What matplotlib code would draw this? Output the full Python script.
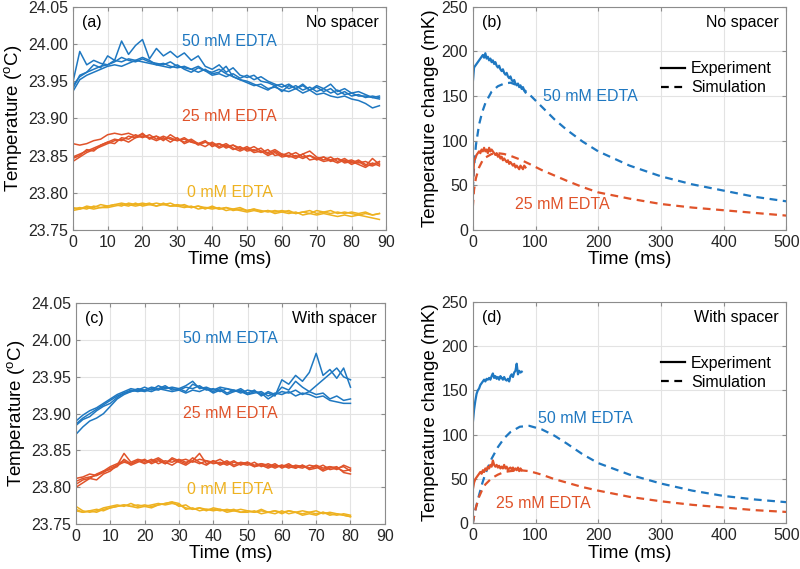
import numpy as np
import matplotlib.pyplot as plt
from matplotlib.lines import Line2D

plt.rcParams['font.family'] = ['Liberation Sans', 'DejaVu Sans']
plt.rcParams['font.size'] = 11.5

BLUE = '#1f78c1'
ORANGE = '#e0532a'
YELLOW = '#eeb220'
EDGE = '#8c8c8c'

# ---- panel (a): no spacer, raw temperature (degC), one sample every 2 ms
t_a = np.arange(0, 89, 2)
a_50 = [
    [23.940, 23.958, 23.962, 23.972, 23.968, 23.984, 23.978, 24.004, 23.986, 23.998,
     24.006, 23.980, 23.994, 23.984, 23.990, 23.982, 23.988, 23.978, 23.984, 23.970,
     23.966, 23.972, 23.962, 23.968, 23.958, 23.955, 23.958, 23.950, 23.948, 23.944,
     23.946, 23.940, 23.944, 23.938, 23.942, 23.936, 23.940, 23.934, 23.938, 23.932,
     23.934, 23.930, 23.930, 23.928, 23.926],
    [23.948, 23.990, 23.972, 23.978, 23.974, 23.972, 23.976, 23.982, 23.978, 23.976,
     23.980, 23.976, 23.974, 23.972, 23.976, 23.970, 23.968, 23.966, 23.970, 23.964,
     23.962, 23.966, 23.960, 23.956, 23.952, 23.950, 23.946, 23.942, 23.938, 23.944,
     23.936, 23.944, 23.940, 23.946, 23.938, 23.942, 23.936, 23.940, 23.932, 23.936,
     23.930, 23.932, 23.928, 23.930, 23.928],
    [23.936, 23.952, 23.958, 23.962, 23.966, 23.970, 23.972, 23.970, 23.974, 23.978,
     23.976, 23.974, 23.972, 23.974, 23.970, 23.968, 23.970, 23.966, 23.962, 23.966,
     23.960, 23.962, 23.970, 23.956, 23.952, 23.948, 23.944, 23.946, 23.940, 23.942,
     23.938, 23.936, 23.940, 23.934, 23.938, 23.932, 23.934, 23.930, 23.928, 23.930,
     23.926, 23.924, 23.920, 23.914, 23.917],
    [23.944, 23.956, 23.962, 23.966, 23.970, 23.972, 23.978, 23.976, 23.980, 23.978,
     23.982, 23.978, 23.972, 23.970, 23.968, 23.972, 23.966, 23.962, 23.968, 23.964,
     23.958, 23.960, 23.956, 23.960, 23.954, 23.958, 23.952, 23.956, 23.950, 23.946,
     23.942, 23.946, 23.940, 23.944, 23.938, 23.944, 23.940, 23.946, 23.936, 23.940,
     23.934, 23.936, 23.932, 23.928, 23.930],
]
a_25 = [
    [23.866, 23.864, 23.866, 23.870, 23.872, 23.878, 23.880, 23.878, 23.880, 23.876,
     23.878, 23.874, 23.876, 23.872, 23.874, 23.870, 23.872, 23.868, 23.866, 23.868,
     23.864, 23.866, 23.862, 23.864, 23.860, 23.858, 23.862, 23.856, 23.854, 23.858,
     23.852, 23.850, 23.854, 23.848, 23.850, 23.846, 23.848, 23.844, 23.846, 23.842,
     23.844, 23.840, 23.842, 23.838, 23.842],
    [23.848, 23.852, 23.856, 23.860, 23.864, 23.868, 23.872, 23.870, 23.876, 23.874,
     23.880, 23.872, 23.876, 23.870, 23.878, 23.872, 23.868, 23.872, 23.866, 23.870,
     23.862, 23.866, 23.860, 23.864, 23.858, 23.862, 23.856, 23.860, 23.852, 23.856,
     23.850, 23.854, 23.848, 23.852, 23.856, 23.848, 23.844, 23.848, 23.842, 23.846,
     23.840, 23.844, 23.838, 23.836, 23.840],
    [23.842, 23.848, 23.854, 23.858, 23.862, 23.866, 23.870, 23.872, 23.868, 23.874,
     23.876, 23.874, 23.870, 23.874, 23.868, 23.874, 23.866, 23.870, 23.864, 23.868,
     23.866, 23.860, 23.864, 23.858, 23.862, 23.856, 23.858, 23.854, 23.858, 23.850,
     23.852, 23.848, 23.850, 23.846, 23.850, 23.844, 23.848, 23.842, 23.846, 23.840,
     23.842, 23.838, 23.834, 23.840, 23.836],
    [23.846, 23.850, 23.858, 23.856, 23.864, 23.868, 23.866, 23.874, 23.872, 23.878,
     23.874, 23.878, 23.872, 23.876, 23.872, 23.870, 23.874, 23.868, 23.866, 23.862,
     23.868, 23.862, 23.866, 23.860, 23.856, 23.860, 23.854, 23.856, 23.850, 23.854,
     23.848, 23.850, 23.846, 23.852, 23.844, 23.846, 23.842, 23.844, 23.840, 23.844,
     23.838, 23.842, 23.836, 23.846, 23.838],
]
a_0 = [
    [23.778, 23.780, 23.778, 23.782, 23.780, 23.782, 23.784, 23.782, 23.786, 23.784,
     23.786, 23.784, 23.786, 23.784, 23.782, 23.784, 23.782, 23.780, 23.782, 23.780,
     23.780, 23.778, 23.780, 23.776, 23.778, 23.776, 23.778, 23.774, 23.776, 23.774,
     23.776, 23.774, 23.772, 23.774, 23.776, 23.772, 23.774, 23.776, 23.772, 23.774,
     23.772, 23.770, 23.772, 23.770, 23.772],
    [23.776, 23.778, 23.780, 23.778, 23.780, 23.780, 23.782, 23.784, 23.782, 23.786,
     23.782, 23.784, 23.782, 23.786, 23.782, 23.782, 23.780, 23.782, 23.778, 23.780,
     23.778, 23.780, 23.776, 23.778, 23.776, 23.774, 23.776, 23.774, 23.776, 23.772,
     23.774, 23.772, 23.774, 23.770, 23.772, 23.770, 23.772, 23.770, 23.768, 23.770,
     23.768, 23.770, 23.768, 23.766, 23.764],
    [23.780, 23.778, 23.782, 23.780, 23.784, 23.782, 23.784, 23.786, 23.784, 23.782,
     23.784, 23.786, 23.782, 23.784, 23.786, 23.782, 23.784, 23.780, 23.782, 23.778,
     23.782, 23.778, 23.780, 23.778, 23.780, 23.776, 23.778, 23.776, 23.774, 23.776,
     23.774, 23.776, 23.772, 23.774, 23.772, 23.776, 23.774, 23.772, 23.774, 23.772,
     23.774, 23.772, 23.774, 23.770, 23.772],
]

# ---- panel (c): with spacer, one sample every 2 ms
t_c = np.arange(0, 81, 2)
c_50 = [
    [23.886, 23.894, 23.900, 23.906, 23.912, 23.918, 23.924, 23.928, 23.930, 23.932,
     23.930, 23.934, 23.932, 23.936, 23.934, 23.932, 23.936, 23.934, 23.938, 23.932,
     23.934, 23.930, 23.934, 23.932, 23.928, 23.932, 23.930, 23.926, 23.928, 23.924,
     23.946, 23.940, 23.952, 23.944, 23.956, 23.982, 23.952, 23.960, 23.948, 23.962,
     23.936],
    [23.890, 23.898, 23.904, 23.908, 23.914, 23.920, 23.926, 23.930, 23.934, 23.932,
     23.936, 23.932, 23.938, 23.934, 23.936, 23.934, 23.930, 23.940, 23.936, 23.934,
     23.930, 23.934, 23.928, 23.932, 23.930, 23.926, 23.930, 23.928, 23.920, 23.926,
     23.936, 23.932, 23.944, 23.936, 23.930, 23.938, 23.946, 23.954, 23.962, 23.950,
     23.946],
    [23.872, 23.882, 23.890, 23.894, 23.900, 23.910, 23.920, 23.926, 23.930, 23.934,
     23.932, 23.936, 23.934, 23.938, 23.932, 23.934, 23.938, 23.944, 23.934, 23.936,
     23.932, 23.936, 23.934, 23.930, 23.934, 23.928, 23.932, 23.924, 23.930, 23.926,
     23.930, 23.928, 23.932, 23.926, 23.930, 23.926, 23.928, 23.920, 23.924, 23.918,
     23.920],
    [23.884, 23.892, 23.896, 23.904, 23.910, 23.914, 23.922, 23.928, 23.932, 23.930,
     23.932, 23.930, 23.934, 23.932, 23.930, 23.932, 23.928, 23.932, 23.930, 23.934,
     23.928, 23.932, 23.926, 23.930, 23.932, 23.926, 23.928, 23.930, 23.924, 23.928,
     23.926, 23.930, 23.924, 23.928, 23.926, 23.922, 23.924, 23.918, 23.916, 23.914,
     23.914],
]
c_25 = [
    [23.808, 23.812, 23.814, 23.816, 23.820, 23.826, 23.830, 23.834, 23.832, 23.836,
     23.834, 23.838, 23.832, 23.836, 23.834, 23.838, 23.834, 23.836, 23.832, 23.836,
     23.832, 23.834, 23.830, 23.834, 23.832, 23.830, 23.834, 23.828, 23.832, 23.828,
     23.830, 23.826, 23.830, 23.828, 23.826, 23.828, 23.824, 23.828, 23.826, 23.822,
     23.824],
    [23.804, 23.810, 23.812, 23.818, 23.822, 23.824, 23.828, 23.838, 23.832, 23.836,
     23.832, 23.836, 23.840, 23.834, 23.830, 23.836, 23.832, 23.840, 23.834, 23.830,
     23.836, 23.830, 23.834, 23.828, 23.832, 23.834, 23.828, 23.830, 23.826, 23.830,
     23.828, 23.832, 23.826, 23.830, 23.824, 23.826, 23.830, 23.824, 23.826, 23.828,
     23.822],
    [23.812, 23.814, 23.818, 23.816, 23.822, 23.828, 23.832, 23.836, 23.830, 23.834,
     23.838, 23.832, 23.836, 23.832, 23.838, 23.834, 23.830, 23.836, 23.846, 23.832,
     23.836, 23.832, 23.836, 23.830, 23.834, 23.832, 23.828, 23.832, 23.830, 23.826,
     23.830, 23.828, 23.826, 23.830, 23.826, 23.830, 23.826, 23.828, 23.824, 23.830,
     23.826],
    [23.800, 23.806, 23.812, 23.810, 23.818, 23.822, 23.830, 23.846, 23.834, 23.838,
     23.836, 23.834, 23.838, 23.832, 23.840, 23.836, 23.838, 23.834, 23.838, 23.836,
     23.834, 23.838, 23.832, 23.836, 23.830, 23.834, 23.830, 23.832, 23.828, 23.832,
     23.826, 23.830, 23.828, 23.826, 23.830, 23.828, 23.822, 23.826, 23.828, 23.820,
     23.818],
]
c_0 = [
    [23.768, 23.766, 23.768, 23.770, 23.768, 23.772, 23.774, 23.776, 23.774, 23.776,
     23.774, 23.776, 23.778, 23.776, 23.778, 23.776, 23.772, 23.770, 23.772, 23.770,
     23.770, 23.768, 23.770, 23.768, 23.770, 23.768, 23.766, 23.768, 23.766, 23.768,
     23.766, 23.768, 23.766, 23.768, 23.766, 23.764, 23.766, 23.764, 23.762, 23.764,
     23.762],
    [23.774, 23.768, 23.766, 23.768, 23.772, 23.774, 23.776, 23.774, 23.778, 23.774,
     23.776, 23.774, 23.776, 23.778, 23.780, 23.774, 23.776, 23.770, 23.772, 23.768,
     23.772, 23.770, 23.768, 23.770, 23.766, 23.768, 23.766, 23.770, 23.766, 23.768,
     23.764, 23.768, 23.766, 23.764, 23.766, 23.768, 23.764, 23.766, 23.764, 23.762,
     23.760],
    [23.770, 23.766, 23.768, 23.766, 23.770, 23.772, 23.774, 23.776, 23.774, 23.772,
     23.774, 23.772, 23.776, 23.778, 23.780, 23.778, 23.770, 23.772, 23.768, 23.770,
     23.768, 23.770, 23.766, 23.768, 23.766, 23.766, 23.768, 23.764, 23.766, 23.764,
     23.768, 23.764, 23.766, 23.762, 23.764, 23.762, 23.766, 23.762, 23.764, 23.762,
     23.760],
]

# ---- panels (b) and (d): temperature change (mK), experiment vs simulation
t_b_exp = np.arange(0, 85, 2)
b_exp_50 = [165, 182, 184, 186, 188, 190, 192, 194, 196, 193,
            198, 192, 194, 190, 192, 188, 190, 186, 188, 184,
            182, 184, 180, 178, 180, 176, 174, 176, 172, 170,
            172, 168, 166, 168, 164, 162, 164, 160, 162, 158,
            160, 156, 154]
b_exp_25 = [50, 78, 80, 84, 86, 88, 86, 90, 88, 92,
            88, 90, 86, 92, 88, 90, 88, 86, 84, 86,
            82, 84, 80, 82, 78, 80, 78, 76, 78, 74,
            76, 74, 72, 74, 70, 72, 70, 68, 72, 70,
            68, 72, 70]

t_d_exp = np.arange(0, 79, 2)
d_exp_50 = [113, 128, 138, 146, 150, 152, 156, 158, 160, 162,
            160, 163, 162, 164, 162, 166, 169, 164, 166, 163,
            165, 162, 166, 164, 162, 165, 162, 161, 163, 160,
            166, 168, 165, 170, 172, 180, 168, 172, 170, 171]
d_exp_25 = [38, 46, 50, 52, 54, 56, 58, 56, 60, 58,
            62, 60, 64, 62, 66, 64, 71, 66, 64, 66,
            63, 65, 62, 64, 62, 66, 62, 64, 60, 62,
            63, 61, 63, 60, 62, 60, 63, 59, 62, 60]

t_sim = [0, 2, 5, 10, 15, 20, 30, 40, 50, 60, 75, 90, 110, 130, 150, 175, 200,
         250, 300, 350, 400, 450, 500]
b_sim_50 = [45, 70, 95, 118, 132, 142, 155, 161, 164, 165, 161, 152, 138, 124, 112,
            99, 88, 72, 60, 51, 44, 37, 32]
b_sim_25 = [25, 45, 58, 70, 77, 81, 85, 86, 85, 83, 79, 74, 67, 61, 55,
            48, 42, 35, 29, 25, 22, 19, 16]
d_sim_50 = [0, 8, 18, 32, 45, 56, 73, 86, 96, 103, 109, 110, 106, 99, 90,
            78, 68, 55, 45, 37, 31, 27, 24]
d_sim_25 = [0, 8, 18, 30, 38, 44, 51, 55, 58, 59, 60, 59, 55, 50, 46,
            41, 37, 30, 25, 21, 18, 15, 13]


def style_axes(ax):
    ax.grid(True, color='#e3e3e3', linewidth=0.8)
    ax.set_axisbelow(True)
    for s in ax.spines.values():
        s.set_color(EDGE)
        s.set_linewidth(0.8)
    ax.tick_params(direction='in', length=3, color=EDGE, labelcolor='#262626',
                   top=True, right=True, labelsize=11.5)


def plot_raw(ax, t, groups, tag, spacer, labels_y):
    for traces, col in zip(groups, [BLUE, ORANGE, YELLOW]):
        for y in traces:
            ax.plot(t, y, color=col, linewidth=1.1)
    for txt, y, col in zip(['50 mM EDTA', '25 mM EDTA', '0 mM EDTA'], labels_y,
                           [BLUE, ORANGE, YELLOW]):
        ax.text(45, y, txt, color=col, ha='center', va='center', fontsize=11.5)
    ax.set_xlim(0, 90)
    ax.set_ylim(23.75, 24.05)
    ax.set_xticks(range(0, 91, 10))
    ax.set_yticks([23.75, 23.80, 23.85, 23.90, 23.95, 24.00, 24.05])
    ax.set_yticklabels(['%.2f' % v for v in ax.get_yticks()])
    ax.set_xlabel('Time (ms)', fontsize=13.5, labelpad=1)
    ax.set_ylabel('Temperature ($^\\mathregular{o}$C)', fontsize=13.5, labelpad=2)
    ax.text(0.03, 0.93, tag, transform=ax.transAxes, fontsize=11.5, va='center')
    ax.text(0.975, 0.93, spacer, transform=ax.transAxes, fontsize=11.5,
            va='center', ha='right')
    style_axes(ax)


def plot_change(ax, t_exp, e50, e25, s50, s25, tag, spacer, lab50, lab25):
    ax.plot(t_sim, s50, color=BLUE, linewidth=1.6, dashes=(3.5, 2.5))
    ax.plot(t_sim, s25, color=ORANGE, linewidth=1.6, dashes=(3.5, 2.5))
    ax.plot(t_exp, e50, color=BLUE, linewidth=1.6)
    ax.plot(t_exp, e25, color=ORANGE, linewidth=1.6)
    ax.text(lab50[0], lab50[1], '50 mM EDTA', color=BLUE, ha='center', va='center',
            fontsize=11.5)
    ax.text(lab25[0], lab25[1], '25 mM EDTA', color=ORANGE, ha='center', va='center',
            fontsize=11.5)
    ax.set_xlim(0, 500)
    ax.set_ylim(0, 250)
    ax.set_xticks(range(0, 501, 100))
    ax.set_yticks(range(0, 251, 50))
    ax.set_xlabel('Time (ms)', fontsize=13.5, labelpad=1)
    ax.set_ylabel('Temperature change (mK)', fontsize=13.5, labelpad=2)
    ax.text(0.03, 0.93, tag, transform=ax.transAxes, fontsize=11.5, va='center')
    ax.text(0.975, 0.93, spacer, transform=ax.transAxes, fontsize=11.5,
            va='center', ha='right')
    handles = [Line2D([], [], color='k', linewidth=1.6),
               Line2D([], [], color='k', linewidth=1.6, dashes=(3.5, 2.5))]
    ax.legend(handles, ['Experiment', 'Simulation'], loc='upper right',
              bbox_to_anchor=(1.0, 0.82), frameon=False, handlelength=1.5,
              handletextpad=0.4, labelspacing=0.25, fontsize=11.5)
    style_axes(ax)


fig = plt.figure(figsize=(8, 5.69), dpi=100)
ax_a = fig.add_axes([0.091, 0.596, 0.392, 0.392])
ax_b = fig.add_axes([0.591, 0.596, 0.392, 0.392])
ax_c = fig.add_axes([0.095, 0.079, 0.386, 0.388])
ax_d = fig.add_axes([0.591, 0.080, 0.392, 0.390])

plot_raw(ax_a, t_a, [a_50, a_25, a_0], '(a)', 'No spacer', [24.003, 23.902, 23.800])
plot_raw(ax_c, t_c, [c_50, c_25, c_0], '(c)', 'With spacer', [24.002, 23.900, 23.797])
plot_change(ax_b, t_b_exp, b_exp_50, b_exp_25, b_sim_50, b_sim_25, '(b)', 'No spacer',
            (188, 149), (142, 29))
plot_change(ax_d, t_d_exp, d_exp_50, d_exp_25, d_sim_50, d_sim_25, '(d)', 'With spacer',
            (179, 118), (112, 22))

fig.savefig('out.png', dpi=100)
